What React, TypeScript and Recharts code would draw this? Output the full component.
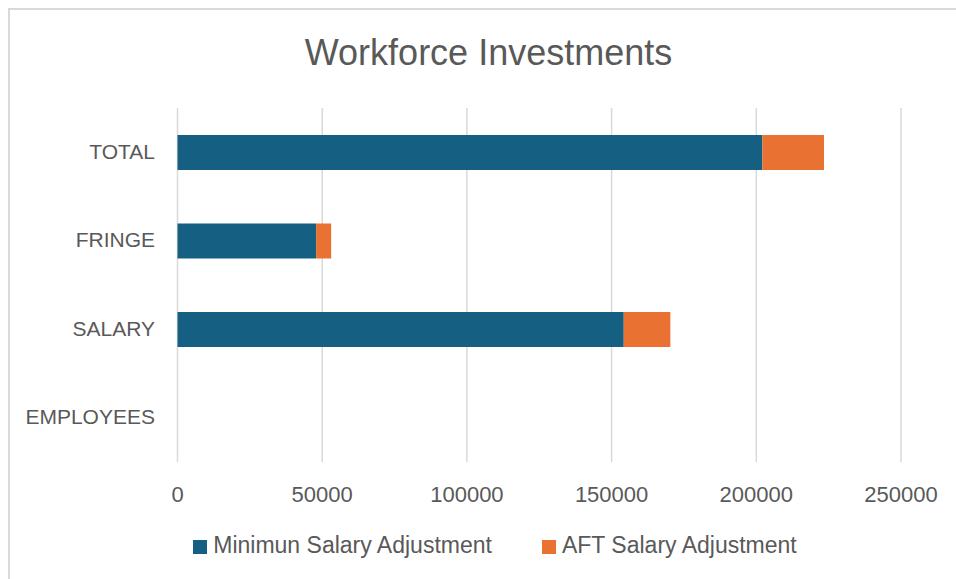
import React from 'react';
import { BarChart, Bar, XAxis, YAxis, CartesianGrid, Legend } from 'recharts';

const categories = ['TOTAL', 'FRINGE', 'SALARY', 'EMPLOYEES'];
const minimumSalaryAdjustment = [202100, 47900, 154200, 0];
const aftSalaryAdjustment = [21300, 5200, 16100, 0];
const xTicks = [0, 50000, 100000, 150000, 200000, 250000];

const seriesNames = ['Minimun Salary Adjustment', 'AFT Salary Adjustment'];
const seriesColors = ['#156082', '#E97132'];

const data = categories.map((c, i) => ({
  category: c,
  min: minimumSalaryAdjustment[i],
  aft: aftSalaryAdjustment[i],
}));

const FONT = '"Liberation Sans", Arial, sans-serif';
const TEXT = '#595959';

const renderLegend = () => (
  <div
    style={{
      display: 'flex',
      justifyContent: 'center',
      alignItems: 'center',
      gap: 50,
      paddingLeft: 34,
      fontFamily: FONT,
      fontSize: 23,
      lineHeight: '24px',
      color: TEXT,
    }}
  >
    {seriesNames.map((n, i) => (
      <div key={n} style={{ display: 'flex', alignItems: 'center' }}>
        <span
          style={{
            display: 'inline-block',
            width: 14,
            height: 14,
            background: seriesColors[i],
            marginRight: 6,
            position: 'relative',
            top: 1.5,
          }}
        />
        <span>{n}</span>
      </div>
    ))}
  </div>
);

export default function App() {
  return (
    <div
      style={{
        position: 'absolute',
        left: 0,
        top: 0,
        width: 956,
        height: 579,
        overflow: 'hidden',
        background: '#fff',
      }}
    >
      <div
        style={{
          position: 'absolute',
          left: 8,
          top: 8,
          width: 980,
          height: 600,
          border: '2px solid #d9d9d9',
          boxSizing: 'border-box',
        }}
      />
      <div
        style={{
          position: 'absolute',
          left: 188.5,
          top: 34.5,
          width: 600,
          textAlign: 'center',
          fontFamily: FONT,
          fontSize: 36,
          lineHeight: '36px',
          color: TEXT,
        }}
      >
        Workforce Investments
      </div>
      <div style={{ position: 'absolute', left: 0, top: 0 }}>
        <BarChart
          width={956}
          height={579}
          data={data}
          layout="vertical"
          barSize={35}
          margin={{ top: 108, right: 55, bottom: 57, left: 7.5 }}
        >
          <CartesianGrid horizontal={false} stroke="#d9d9d9" strokeWidth={1.5} />
          <XAxis
            type="number"
            domain={[0, 250000]}
            ticks={xTicks}
            interval={0}
            axisLine={false}
            tickLine={false}
            tickSize={0}
            tickMargin={24}
            height={60}
            tick={{ fill: TEXT, fontSize: 22, fontFamily: FONT }}
          />
          <YAxis
            type="category"
            dataKey="category"
            width={170}
            axisLine={false}
            tickLine={false}
            tickSize={0}
            tickMargin={22.5}
            interval={0}
            tick={{ fill: TEXT, fontSize: 21, fontFamily: FONT, dy: -1 }}
          />
          <Legend
            layout="horizontal"
            verticalAlign="middle"
            align="center"
            wrapperStyle={{ top: 533, left: 0, width: 956, height: 24 }}
            content={renderLegend}
          />
          <Bar
            dataKey="min"
            name={seriesNames[0]}
            stackId="s"
            fill={seriesColors[0]}
            isAnimationActive={false}
          />
          <Bar
            dataKey="aft"
            name={seriesNames[1]}
            stackId="s"
            fill={seriesColors[1]}
            isAnimationActive={false}
          />
        </BarChart>
      </div>
    </div>
  );
}
